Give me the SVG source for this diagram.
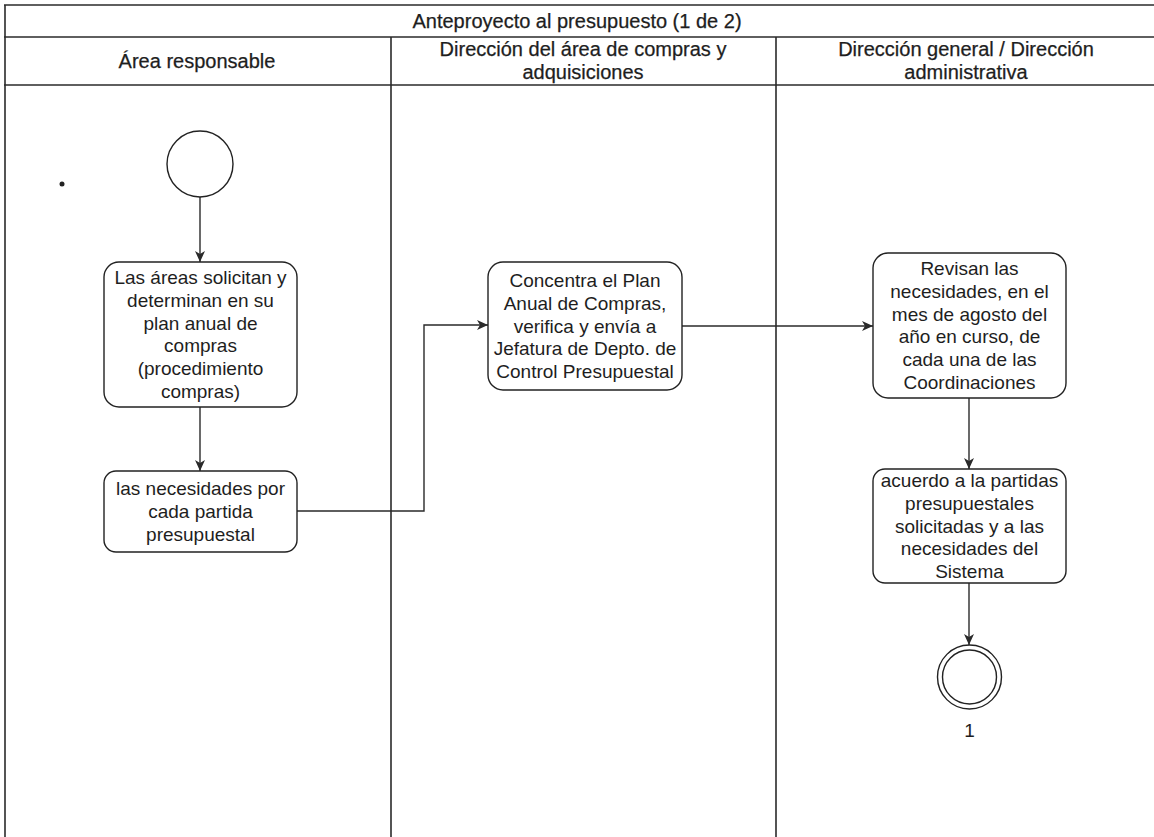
<svg xmlns="http://www.w3.org/2000/svg" width="1154" height="837" viewBox="0 0 1154 837">
<style>
text{font-family:"Liberation Sans",Arial,sans-serif;font-size:19px;fill:#1e1e1e;text-anchor:middle}
.hd{font-size:20px;stroke:#1e1e1e;stroke-width:0.25}
.grid{stroke:#2a2a2a;stroke-width:1.6;fill:none}
.box{fill:#fff;stroke:#222;stroke-width:1.4}
.conn{fill:none;stroke:#2a2a2a;stroke-width:1.4}
</style>
<defs>
<marker id="arr" markerWidth="12" markerHeight="10" refX="11" refY="5" orient="auto" markerUnits="userSpaceOnUse">
<path d="M0,0 L11,5 L0,10 L3,5 Z" fill="#2a2a2a"/>
</marker>
</defs>
<rect width="1154" height="837" fill="#fff"/>
<g id="table">
<line class="grid" x1="4" y1="5" x2="1154" y2="5"/>
<line class="grid" x1="4" y1="37" x2="1154" y2="37"/>
<line class="grid" x1="4" y1="85" x2="1154" y2="85"/>
<line class="grid" x1="5" y1="5" x2="5" y2="837"/>
<line class="grid" x1="391" y1="37" x2="391" y2="837"/>
<line class="grid" x1="776" y1="37" x2="776" y2="837"/>
<text class="hd" x="577" y="28">Anteproyecto al presupuesto (1 de 2)</text>
<text class="hd" x="197" y="68">Área responsable</text>
<text class="hd" x="583" y="56">Dirección del área de compras y</text>
<text class="hd" x="583" y="79">adquisiciones</text>
<text class="hd" x="966" y="56">Dirección general / Dirección</text>
<text class="hd" x="966" y="79">administrativa</text>
</g>
<circle id="dot" cx="62" cy="184" r="2.5" fill="#222"/>
<g id="connectors">
<line class="conn" x1="200" y1="197" x2="200" y2="262" marker-end="url(#arr)"/>
<line class="conn" x1="200" y1="407" x2="200" y2="471" marker-end="url(#arr)"/>
<polyline class="conn" points="297,511 424,511 424,325 488,325" marker-end="url(#arr)"/>
<line class="conn" x1="682" y1="326" x2="873" y2="326" marker-end="url(#arr)"/>
<line class="conn" x1="969" y1="398" x2="969" y2="469" marker-end="url(#arr)"/>
<line class="conn" x1="969" y1="583" x2="969" y2="645" marker-end="url(#arr)"/>
</g>
<g id="start">
<circle cx="200" cy="164" r="33" fill="#fff" stroke="#222" stroke-width="1.4"/>
</g>
<g id="n1">
<rect class="box" x="104" y="262" width="193" height="145" rx="15"/>
<text x="200.5" y="284">Las áreas solicitan y</text>
<text x="200.5" y="306.8">determinan en su</text>
<text x="200.5" y="329.6">plan anual de</text>
<text x="200.5" y="352.4">compras</text>
<text x="200.5" y="375.2">(procedimiento</text>
<text x="200.5" y="398">compras)</text>
</g>
<g id="n2">
<rect class="box" x="104" y="471" width="193" height="81" rx="12"/>
<text x="200.5" y="495.4">las necesidades por</text>
<text x="200.5" y="518.2">cada partida</text>
<text x="200.5" y="541">presupuestal</text>
</g>
<g id="n3">
<rect class="box" x="488" y="262" width="194" height="128" rx="15"/>
<text x="585" y="287">Concentra el Plan</text>
<text x="585" y="309.8">Anual de Compras,</text>
<text x="585" y="332.6">verifica y envía a</text>
<text x="585" y="355.4">Jefatura de Depto. de</text>
<text x="585" y="378.2">Control Presupuestal</text>
</g>
<g id="n4">
<rect class="box" x="873" y="253" width="193" height="145" rx="15"/>
<text x="969.5" y="275">Revisan las</text>
<text x="969.5" y="297.8">necesidades, en el</text>
<text x="969.5" y="320.6">mes de agosto del</text>
<text x="969.5" y="343.4">año en curso, de</text>
<text x="969.5" y="366.2">cada una de las</text>
<text x="969.5" y="389">Coordinaciones</text>
</g>
<g id="n5">
<rect class="box" x="873" y="469" width="193" height="114" rx="12"/>
<text x="969.5" y="487">acuerdo a la partidas</text>
<text x="969.5" y="509.8">presupuestales</text>
<text x="969.5" y="532.6">solicitadas y a las</text>
<text x="969.5" y="555.4">necesidades del</text>
<text x="969.5" y="578.2">Sistema</text>
</g>
<g id="end">
<circle cx="969.5" cy="677" r="32" fill="#fff" stroke="#222" stroke-width="1.4"/>
<circle cx="969.5" cy="677" r="27" fill="none" stroke="#222" stroke-width="1.4"/>
<text x="969.5" y="737">1</text>
</g>
</svg>
